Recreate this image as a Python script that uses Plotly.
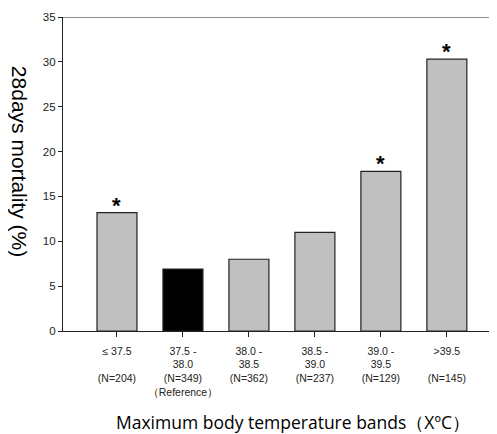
import plotly.graph_objects as go

categories = ["≤ 37.5", "37.5 - 38.0", "38.0 - 38.5", "38.5 - 39.0", "39.0 - 39.5", ">39.5"]
tick_labels = ["≤ 37.5<br> <br>(N=204)", "37.5 -<br>38.0<br>(N=349)<br>（Reference）",
               "38.0 -<br>38.5<br>(N=362)", "38.5 -<br>39.0<br>(N=237)",
               "39.0 -<br>39.5<br>(N=129)", ">39.5<br> <br>(N=145)"]
mortality = [13.2, 6.9, 8.0, 11.0, 17.8, 30.3]
significant = [True, False, False, False, True, True]
bar_colors = ["#c0c0c0", "#000000", "#c0c0c0", "#c0c0c0", "#c0c0c0", "#c0c0c0"]

xs = list(range(len(categories)))

fig = go.Figure()
fig.add_trace(go.Bar(
    x=xs, y=mortality, width=0.606,
    marker=dict(color=bar_colors, line=dict(color="#222222", width=1.2)),
    hoverinfo="skip",
))

for i, (v, s) in enumerate(zip(mortality, significant)):
    if s:
        fig.add_annotation(x=i, y=v, text="<b>*</b>", showarrow=False,
                           yanchor="bottom", yshift=-7,
                           font=dict(family="Liberation Sans", size=22, color="black"))

fig.add_shape(type="line", xref="paper", yref="y", x0=0, x1=1, y0=35, y1=35,
              line=dict(color="#222222", width=1.2))

fig.add_annotation(xref="paper", yref="paper", x=-0.1, y=0.54, xanchor="center", yanchor="middle",
                   text="28days mortality (%)", textangle=90, showarrow=False,
                   font=dict(family="Liberation Sans", size=21, color="black"))

fig.add_annotation(xref="paper", yref="paper", x=0.53, y=-0.29, xanchor="center", yanchor="middle",
                   text="Maximum body temperature bands（XºC）", showarrow=False,
                   font=dict(family="Open Sans", size=17.5, color="black"))

fig.update_layout(
    width=489, height=426,
    margin=dict(l=55, r=0, t=9, b=103, autoexpand=False),
    plot_bgcolor="white", paper_bgcolor="white",
    showlegend=False,
    xaxis=dict(range=[-0.818, 5.76], tickvals=xs, ticktext=tick_labels,
               showline=True, linecolor="#222222", linewidth=1.2,
               ticks="outside", ticklen=5, tickcolor="#222222",
               tickfont=dict(family="Liberation Sans", size=10.5, color="#222222"),
               ticklabelstandoff=5,
               showgrid=False, zeroline=False, tickangle=0, automargin=False),
    yaxis=dict(range=[0, 35], tickvals=[0, 5, 10, 15, 20, 25, 30, 35],
               showline=True, linecolor="#222222", linewidth=1.2,
               ticks="outside", ticklen=4, tickcolor="#222222",
               tickfont=dict(family="Liberation Sans", size=11.5, color="#222222"),
               showgrid=False, zeroline=False, automargin=False),
)

fig.write_html("out.html")
